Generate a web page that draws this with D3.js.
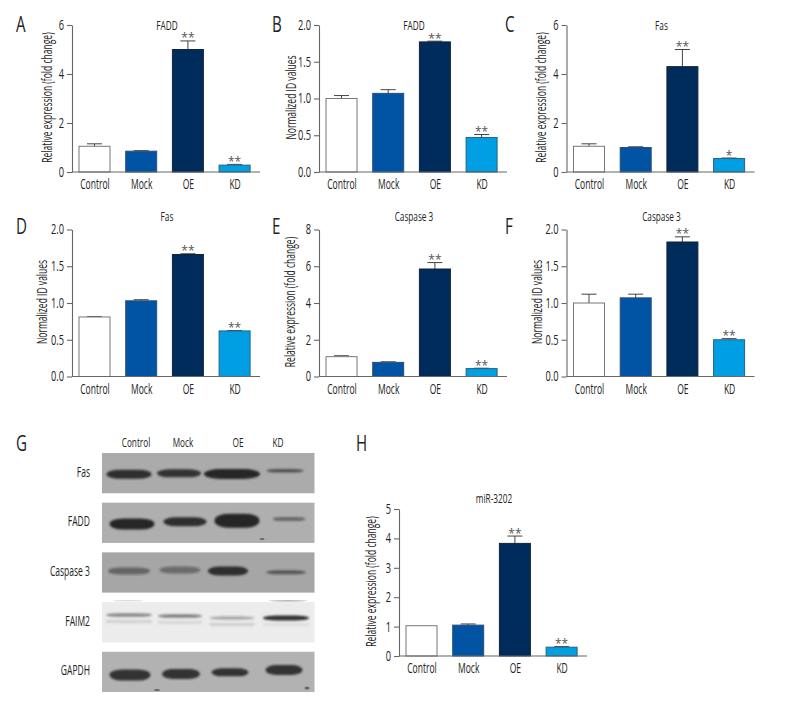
<!DOCTYPE html>
<html><head><meta charset="utf-8">
<script src="https://cdn.jsdelivr.net/npm/d3@7/dist/d3.min.js"></script>
<style>html,body{margin:0;background:#fff}svg{display:block}
text{font-family:"Open Sans",sans-serif;fill:#222}</style>
</head><body><svg id="c" width="792" height="720"></svg>
<script>
const groups = ["Control","Mock","OE","KD"];
const foldTicks6 = [0,2,4,6];
const foldTicks8 = [0,2,4,6,8];
const foldTicks5 = [0,1,2,3,4,5];
const idTicks = [0,0.5,1,1.5,2];
const foldLabel = "Relative expression (fold change)";
const idLabel = "Normalized ID values";

const faddFoldValues = [1.05,0.85,5.0,0.28], faddFoldTops = [1.15,0.87,5.35,0.31];
const faddIdValues = [1.0,1.07,1.77,0.47], faddIdTops = [1.04,1.12,1.78,0.51];
const fasFoldValues = [1.05,1.0,4.3,0.55], fasFoldTops = [1.15,1.03,5.0,0.57];
const fasIdValues = [0.81,1.03,1.66,0.62], fasIdTops = [0.815,1.045,1.67,0.625];
const caspFoldValues = [1.08,0.77,5.85,0.43], caspFoldTops = [1.13,0.8,6.2,0.45];
const caspIdValues = [1.0,1.07,1.83,0.5], caspIdTops = [1.12,1.12,1.9,0.515];
const mirValues = [1.03,1.05,3.83,0.3], mirTops = [1.03,1.09,4.08,0.32];

const stars2 = ["","","**","**"];
const stars1 = ["","","**","*"];

const blotLabels = ["Fas","FADD","Caspase 3","FAIM2","GAPDH"];
const fasBand = [0.95,0.92,1.0,0.7];
const faddBand = [1.0,0.95,1.0,0.5];
const caspBand = [0.5,0.45,0.95,0.62];
const faimBand = [0.5,0.55,0.38,0.95];
const gapdhBand = [0.92,0.92,0.92,0.92];
const faimLower = [0.18,0.15,0.2,0.1];

const fill = {Control:"#fff",Mock:"#0054a3",OE:"#002c5b",KD:"#009fe3"};
const edge = {Control:"#777",Mock:"#2b4f78",OE:"#13233b",KD:"#27637f"};

const svg = d3.select("#c");
const W = 188, H = 147;
const x = d3.scalePoint().domain(groups).range([22.5,162.6]);

const panels = [
 {l:"A",lx:16,ly:32,ox:72,oy:172,max:6,ticks:foldTicks6,fmt:"d",yl:foldLabel,ylx:-20,title:"FADD",ty:30,v:faddFoldValues,t:faddFoldTops,s:stars2},
 {l:"B",lx:272,ly:32,ox:319,oy:172,max:2,ticks:idTicks,fmt:".1f",yl:idLabel,ylx:-23,title:"FADD",ty:30,v:faddIdValues,t:faddIdTops,s:stars2},
 {l:"C",lx:505,ly:32,ox:566.5,oy:172,max:6,ticks:foldTicks6,fmt:"d",yl:foldLabel,ylx:-20.5,title:"Fas",ty:30,v:fasFoldValues,t:fasFoldTops,s:stars1},
 {l:"D",lx:16,ly:234,ox:72,oy:376.5,max:2,ticks:idTicks,fmt:".1f",yl:idLabel,ylx:-25,title:"Fas",ty:221,v:fasIdValues,t:fasIdTops,s:stars2},
 {l:"E",lx:272,ly:234,ox:319,oy:376.5,max:8,ticks:foldTicks8,fmt:"d",yl:foldLabel,ylx:-24,title:"Caspase 3",ty:221,v:caspFoldValues,t:caspFoldTops,s:stars2},
 {l:"F",lx:505,ly:234,ox:566.5,oy:376.5,max:2,ticks:idTicks,fmt:".1f",yl:idLabel,ylx:-24.5,title:"Caspase 3",ty:221,v:caspIdValues,t:caspIdTops,s:stars2},
 {l:"H",lx:356,ly:451,ox:399,oy:656,max:5,ticks:foldTicks5,fmt:"d",yl:foldLabel,ylx:-23,title:"miR-3202",ty:503,v:mirValues,t:mirTops,s:stars2}
];

panels.forEach(p=>{
  svg.append("text").attr("class","big").attr("x",p.lx).attr("y",p.ly).attr("font-size",21).attr("fill","#111").text(p.l);
  const g = svg.append("g").attr("transform",`translate(${p.ox},${p.oy-H})`);
  const y = d3.scaleLinear().domain([0,p.max]).range([H,0]);
  groups.forEach((k,i)=>{
    const cx = x(k);
    if(p.t[i]>p.v[i]){
      g.append("line").attr("x1",cx).attr("x2",cx).attr("y1",y(p.v[i])).attr("y2",y(p.t[i])).attr("stroke","#444").attr("stroke-width",1);
      g.append("line").attr("x1",cx-7.5).attr("x2",cx+7.5).attr("y1",y(p.t[i])).attr("y2",y(p.t[i])).attr("stroke","#444").attr("stroke-width",1);
    }
    g.append("rect").attr("x",cx-15.5).attr("width",31).attr("y",y(p.v[i])).attr("height",H-y(p.v[i]))
      .attr("fill",fill[k]).attr("stroke",edge[k]).attr("stroke-width",1);
    if(p.s[i]) g.append("text").attr("class","star").attr("x",cx).attr("y",y(p.t[i])+1.5).attr("text-anchor","middle").attr("font-size",12).style("fill","#555").text(p.s[i]);
  });
  const ay = g.append("g").call(d3.axisLeft(y).tickValues(p.ticks).tickFormat(d3.format(p.fmt)).tickSize(5).tickPadding(3).tickSizeOuter(0));
  ay.selectAll("path,line").attr("stroke","#666").attr("stroke-width",1.1);
  ay.selectAll("text").attr("class","num").attr("font-size",14);
  ay.attr("font-family",null);
  const ax = g.append("g").attr("transform",`translate(0,${H})`).call(d3.axisBottom(x).tickSize(0).tickPadding(7.5));
  ax.select(".domain").remove();
  ax.append("line").attr("x1",0).attr("x2",W).attr("stroke","#666").attr("stroke-width",1.1);
  ax.selectAll("text").attr("font-size",14);
  ax.attr("font-family",null);
  g.append("text").attr("transform",`translate(${p.ylx},${H/2-1}) rotate(-90)`).attr("text-anchor","middle").attr("font-size",14).text(p.yl);
  g.append("text").attr("x",95).attr("y",p.ty-(p.oy-H)).attr("text-anchor","middle").attr("font-size",13.5).text(p.title);
});

// G: western blot
svg.append("text").attr("class","big").attr("x",16).attr("y",451).attr("font-size",21).attr("fill","#111").text("G");
const defs = svg.append("defs");
defs.append("filter").attr("id","blur").attr("x","-20%").attr("y","-80%").attr("width","140%").attr("height","260%")
  .append("feGaussianBlur").attr("stdDeviation","1.1 0.9");
const rowY = d3.scaleBand().domain(blotLabels).range([453,692]).paddingInner(0.19).paddingOuter(0);
const laneHead = {Control:136,Mock:183,OE:238,KD:278};
const bandOpacity = d3.scaleLinear().domain([0,1]).range([0,1]).clamp(true);
const rows = [
 {k:"Fas",bg:"#ababab",b:fasBand,cx:[129,179,232,285],w:[45,44,56,37],h:[9,8,10,3.5],cy:[474.3,473.3,474,470.7]},
 {k:"FADD",bg:"#afafaf",b:faddBand,cx:[132,185,237,289],w:[45,43,45,33],h:[11,9,14,4],cy:[524,521.7,520.7,519]},
 {k:"Caspase 3",bg:"#a6a6a6",b:caspBand,cx:[129,180,228,286],w:[42,41,40,40],h:[7,7,9,4],cy:[571,570,571,572.3]},
 {k:"FAIM2",bg:"#ececec",b:faimBand,cx:[129,180,232,286],w:[46,44,45,46],h:[3.5,3.5,3,5],cy:[615,616,618,618],low:faimLower},
 {k:"GAPDH",bg:"#b2b2b2",b:gapdhBand,cx:[130,181,230,284],w:[41,38,37,37],h:[11,10,8,10],cy:[675,674,672.3,670]}
];
const specks = [[262,539,2.5,1,0.6],[157,690,3,1,0.6],[307,688,2.5,1.5,0.6],[288,600.8,20,0.6,0.45],[128,600.8,16,0.5,0.25]];
groups.forEach(k=>svg.append("text").attr("x",laneHead[k]).attr("y",447).attr("text-anchor","middle").attr("font-size",13.5).text(k));
rows.forEach(r=>{
  const y0 = rowY(r.k), h = rowY.bandwidth();
  svg.append("text").attr("x",90).attr("y",y0+h/2+3.5).attr("text-anchor","end").attr("font-size",14).text(r.k);
  const cp = "cp"+r.k.replace(/\W/g,"");
  defs.append("clipPath").attr("id",cp).append("rect").attr("x",102).attr("y",y0).attr("width",212.5).attr("height",h);
  svg.append("rect").attr("x",102).attr("y",y0).attr("width",212.5).attr("height",h).attr("fill",r.bg);
  const gb = svg.append("g").attr("clip-path",`url(#${cp})`).append("g").attr("filter","url(#blur)");
  groups.forEach((k,i)=>{
    gb.append("rect").attr("x",r.cx[i]-r.w[i]/2).attr("width",r.w[i])
      .attr("y",r.cy[i]-r.h[i]/2).attr("height",r.h[i]).attr("rx",r.w[i]*0.3).attr("ry",r.h[i]/2)
      .attr("fill","#262626").attr("opacity",bandOpacity(r.b[i]));
    if(r.low) gb.append("rect").attr("x",r.cx[i]-r.w[i]/2).attr("width",r.w[i])
      .attr("y",r.cy[i]+5).attr("height",3).attr("rx",1.5).attr("fill","#555").attr("opacity",bandOpacity(r.low[i]));
  });
});
specks.forEach(s=>svg.append("ellipse").attr("cx",s[0]).attr("cy",s[1]).attr("rx",s[2]).attr("ry",s[3]).attr("fill","#333").attr("opacity",s[4]));

// condense every label (horizontally in its own frame) to match the reference's narrow typeface
svg.selectAll("text").each(function(){
  const t = d3.select(this);
  if(t.classed("star")) return;
  const f = t.classed("big") ? 0.72 : t.classed("num") ? 0.66 : 0.61;
  const px = +t.attr("x") || 0;
  const prev = t.attr("transform") || "";
  t.attr("transform",`${prev} translate(${px},0) scale(${f},1) translate(${-px},0)`);
});
</script></body></html>
